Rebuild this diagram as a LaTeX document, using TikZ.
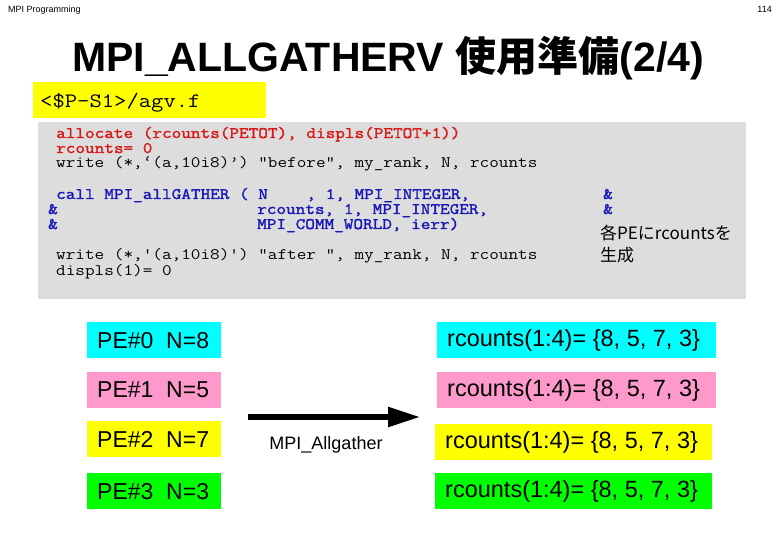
\documentclass[tikz,border=0pt]{standalone}
\usepackage{fontspec}
\setmainfont{Liberation Sans}
\newfontfamily\codefont{Latin Modern Mono}[FakeStretch=1.168, AutoFakeBold=1.8]
\newfontfamily\cjk{Noto Sans CJK JP}
\usetikzlibrary{arrows.meta}
\definecolor{codegray}{RGB}{221,221,221}
\definecolor{codered}{RGB}{215,25,25}
\definecolor{codeblue}{RGB}{25,25,185}
\definecolor{pecyan}{RGB}{0,255,255}
\definecolor{pepink}{RGB}{255,153,204}
\definecolor{peyellow}{RGB}{255,255,0}
\definecolor{pegreen}{RGB}{0,255,0}
\tikzset{
  code/.style={anchor=base west, inner sep=0pt, font=\fontsize{16}{16}\selectfont\codefont},
  redcode/.style={code, text=codered, font=\fontsize{16}{16}\selectfont\codefont\bfseries},
  bluecode/.style={code, text=codeblue, font=\fontsize{16}{16}\selectfont\codefont\bfseries},
  pebox/.style={anchor=north west, inner xsep=10pt, inner ysep=0pt, minimum height=36pt},
  leftbox/.style={pebox, font=\fontsize{23}{23}\selectfont},
  rightbox/.style={pebox, font=\fontsize{23.5}{23.5}\selectfont},
}
\newcommand\lbox[1]{\makebox[114pt][l]{#1}}
\newcommand\rboxwide[1]{\makebox[259pt][l]{#1}}
\newcommand\rboxnarrow[1]{\makebox[257pt][l]{#1}}
\begin{document}
\begin{tikzpicture}[x=1pt,y=-1pt]
\useasboundingbox (0,0) rectangle (780,540);
\node[anchor=base west, inner sep=0pt, font=\fontsize{9}{9}\selectfont] (hdr) at (8,13) {MPI Programming};
\node[anchor=base east, inner sep=0pt, font=\fontsize{9}{9}\selectfont] (pg) at (772,13) {114};
\node[anchor=base, inner sep=0pt] (title) at (388,72)
  {\fontsize{41}{41}\selectfont\bfseries MPI\_ALLGATHERV {\cjk\bfseries 使用準備}(2/4)};
\node[anchor=north west, fill=peyellow, minimum width=233pt, minimum height=36pt, inner sep=0pt] (file) at (33,82) {};
\node[anchor=base west, inner sep=0pt, font=\fontsize{20.5}{20.5}\selectfont\codefont] (filename) at (40,108) {<\$P-S1>/agv.f};
\node[anchor=north west, fill=codegray, minimum width=708pt, minimum height=177pt, inner sep=0pt] (codebg) at (38,122) {};
\node[redcode] (l1) at (56,138) {allocate (rcounts(PETOT), displs(PETOT+1))};
\node[redcode] (l2) at (56,153) {rcounts= 0};
\node[code] (l3) at (56,168) {write (*,‘(a,10i8)’) “before”, my\_rank, N, rcounts};
\node[bluecode] (l4) at (56,199) {call MPI\_allGATHER ( N~~~~, 1, MPI\_INTEGER,};
\node[bluecode] (a1) at (603,199) {\&};
\node[bluecode] (a2) at (48,214) {\&};
\node[bluecode] (l5) at (257,214) {rcounts, 1, MPI\_INTEGER,};
\node[bluecode] (a3) at (603,214) {\&};
\node[bluecode] (a4) at (48,229) {\&};
\node[bluecode] (l6) at (257,229) {MPI\_COMM\_WORLD, ierr)};
\node[anchor=base west, inner sep=0pt, font=\fontsize{17}{17}\selectfont\cjk] (note1) at (600,240) {各PEにrcountsを};
\node[anchor=base west, inner sep=0pt, font=\fontsize{17}{17}\selectfont\cjk] (note2) at (600,262) {生成};
\node[code] (l7) at (56,260) {write (*,'(a,10i8)') "after ", my\_rank, N, rcounts};
\node[code] (l8) at (56,276) {displs(1)= 0};
\node[leftbox, fill=pecyan] (pe0) at (87,322) {\lbox{PE\#0~~N=8}};
\node[leftbox, fill=pepink] (pe1) at (87,372) {\lbox{PE\#1~~N=5}};
\node[leftbox, fill=peyellow] (pe2) at (87,421) {\lbox{PE\#2~~N=7}};
\node[leftbox, fill=pegreen] (pe3) at (87,473) {\lbox{PE\#3~~N=3}};
\node[rightbox, fill=pecyan] (r0) at (437,322) {\rboxwide{rcounts(1:4)= \{8, 5, 7, 3\}}};
\node[rightbox, fill=pepink] (r1) at (437,372) {\rboxwide{rcounts(1:4)= \{8, 5, 7, 3\}}};
\node[rightbox, fill=peyellow] (r2) at (435,424) {\rboxnarrow{rcounts(1:4)= \{8, 5, 7, 3\}}};
\node[rightbox, fill=pegreen] (r3) at (435,473) {\rboxnarrow{rcounts(1:4)= \{8, 5, 7, 3\}}};
\coordinate (arrS) at (248,417);
\coordinate (arrE) at (420,417);
\draw[line width=5.5pt, -{Triangle[length=32pt, width=19pt]}] (arrS) -- (arrE);
\node[anchor=base, inner sep=0pt, font=\fontsize{18}{18}\selectfont] (agl) at (326,449) {MPI\_Allgather};
\end{tikzpicture}
\end{document}
